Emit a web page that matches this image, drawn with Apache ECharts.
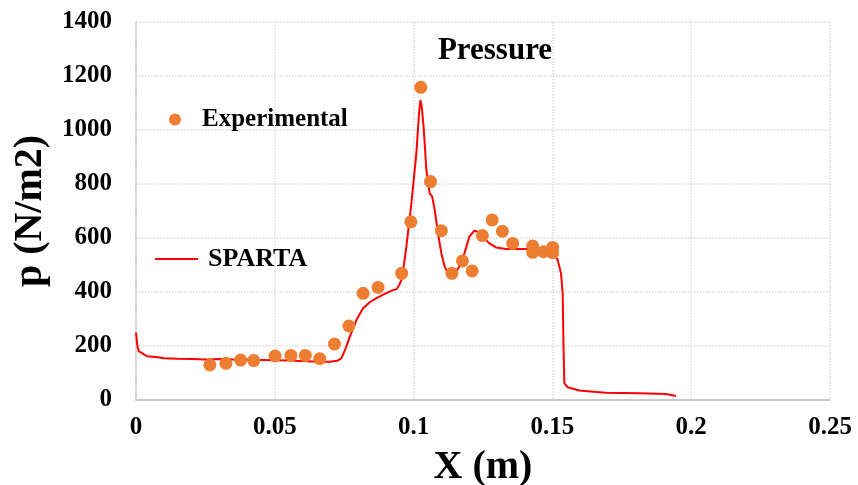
<!DOCTYPE html>
<html>
<head>
<meta charset="utf-8">
<script src="https://cdn.jsdelivr.net/npm/echarts@6/dist/echarts.min.js"></script>
<style>
html,body{margin:0;padding:0;background:#fff;}
#chart{width:858px;height:485px;}
</style>
</head>
<body>
<div id="chart"></div>
<script>
// measured data (x in m, p in N/m2)
var expX = [0.0266,0.0324,0.0377,0.0424,0.0501,0.0558,0.0610,0.0662,0.0715,0.0767,0.0818,0.0872,0.0957,0.0990,0.1026,
	0.1061,0.1100,0.1138,0.1176,0.1211,0.1248,0.1283,0.1320,0.1357,0.1429,0.1429,0.1468,0.1501,0.1501];
var expP = [130,136,148,146,163,165,165,153,207,274,395,417,469,660,1158,
	809,627,469,515,478,609,667,625,580,570,547,549,565,546];

var spartaX = [0,0.0005,0.001,0.002,0.003,0.004,0.006,0.008,0.010,0.015,0.020,0.025,0.030,0.035,0.040,0.045,0.050,0.055,0.060,0.065,0.070,
	0.0725,0.074,0.0755,0.077,0.0794,0.0818,0.0842,0.0866,0.090,0.0926,0.0938,0.0948,0.0956,0.0965,0.0974,0.0992,0.1010,0.1020,0.1025,
	0.1030,0.1036,0.1046,0.1058,0.1067,0.1076,0.1088,0.1100,0.1112,0.1124,0.1148,0.1165,0.1183,0.1201,0.1219,0.1231,0.1249,0.1273,
	0.1297,0.1333,0.1405,0.1453,0.1501,0.1519,0.1531,0.1537,0.1540,0.1543,0.1555,0.1597,0.1658,0.1693,0.1813,0.1909,0.1945];
var spartaP = [250,200,180,175,168,162,160,158,155,153,152,150,152,150,149,148,147,146,144,142,142,
	145,155,190,234,296,340,362,377,395,407,410,425,444,500,568,728,914,1070,1111,
	1080,1012,852,765,753,704,617,543,494,469,469,494,543,605,627,623,605,580,
	565,559,559,549,549,519,469,395,200,62,47,35,30,27,25,22,15];

var xTicks = [0, 0.25, 0.05];
var yTicks = [0, 1400, 200];

var font = '"Liberation Serif", "Times New Roman", serif';

var chart = echarts.init(document.getElementById('chart'));

var expData = expX.map(function(x, i){ return [x, expP[i]]; });
var spartaData = spartaX.map(function(x, i){ return [x, spartaP[i]]; });

var option = {
	backgroundColor: '#fff',
	animation: false,
	title: {
		text: 'Pressure',
		left: 490,
		top: 30,
		textAlign: 'center',
		textStyle: {fontFamily: font, fontWeight: 'bold', fontSize: 31, color: '#000'}
	},
	legend: [
		{
			data: ['Experimental'],
			left: 164, top: 102,
			icon: 'circle', itemWidth: 12, itemHeight: 12,
			textStyle: {fontFamily: font, fontWeight: 'bold', fontSize: 25, color: '#000', padding: [0,0,0,16]}
		},
		{
			data: ['SPARTA'],
			left: 150, top: 241,
			icon: 'rect', itemWidth: 43, itemHeight: 2,
			textStyle: {fontFamily: font, fontWeight: 'bold', fontSize: 26, color: '#000', padding: [0,0,0,5]}
		}
	],
	grid: {left: 136, right: 28, top: 22, bottom: 85, outerBoundsMode: 'none'},
	xAxis: {
		type: 'value',
		min: xTicks[0], max: xTicks[1], interval: xTicks[2],
		name: 'X (m)',
		nameLocation: 'middle',
		nameGap: 48,
		nameTextStyle: {fontFamily: font, fontWeight: 'bold', fontSize: 40, color: '#000'},
		axisLine: {lineStyle: {color: '#bfbfbf', width: 1.5}},
		axisTick: {show: false},
		axisLabel: {fontFamily: font, fontWeight: 'bold', fontSize: 25, color: '#000', margin: 15},
		splitLine: {show: true, lineStyle: {color: '#d9d9d9', type: 'dotted', width: 1.5}}
	},
	yAxis: {
		type: 'value',
		min: yTicks[0], max: yTicks[1], interval: yTicks[2],
		name: 'p (N/m2)',
		nameLocation: 'middle',
		nameGap: 80,
		nameTextStyle: {fontFamily: font, fontWeight: 'bold', fontSize: 40, color: '#000'},
		axisLine: {show: true, lineStyle: {color: '#d0d0d0', width: 1.5}},
		axisTick: {show: false},
		axisLabel: {fontFamily: font, fontWeight: 'bold', fontSize: 25, color: '#000', margin: 24,
			formatter: function(v){ return String(v); }},
		splitLine: {show: true, lineStyle: {color: '#d9d9d9', type: 'dotted', width: 1.5}}
	},
	series: [
		{
			name: 'SPARTA',
			type: 'line',
			data: spartaData,
			showSymbol: false,
			symbol: 'none',
			color: '#ff0000',
			lineStyle: {color: '#ff0000', width: 2},
			z: 2
		},
		{
			name: 'Experimental',
			type: 'scatter',
			data: expData,
			symbolSize: 13,
			itemStyle: {color: '#ed7d31', opacity: 1},
			z: 3
		}
	]
};

chart.setOption(option);
</script>
</body>
</html>
